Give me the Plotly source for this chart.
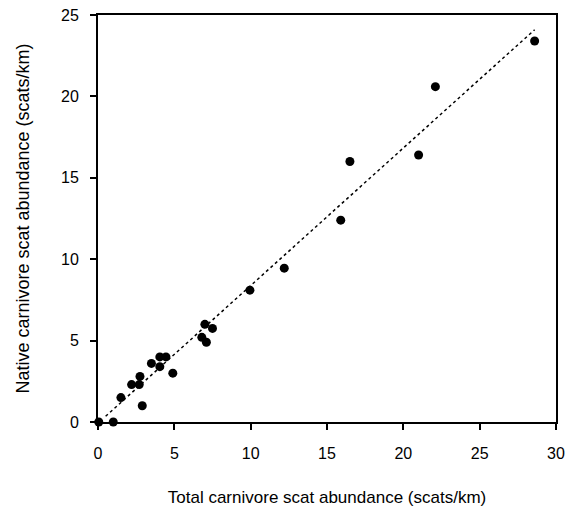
import plotly.graph_objects as go

total_abundance = [0.05, 1.0, 1.5, 2.2, 2.7, 2.75, 2.9, 3.5, 4.05, 4.45, 4.05, 4.9, 6.8, 7.0, 7.1, 7.5,
                   9.95, 12.2, 15.9, 16.5, 21.0, 22.1, 28.6]
native_abundance = [0.0, 0.0, 1.5, 2.3, 2.3, 2.8, 1.0, 3.6, 4.0, 4.0, 3.4, 3.0, 5.2, 6.0, 4.9, 5.75,
                    8.1, 9.45, 12.4, 16.0, 16.4, 20.6, 23.4]
fit_x = [0.5, 28.6]
fit_slope = 0.845
fit_intercept = -0.07
fit_y = [fit_slope * v + fit_intercept for v in fit_x]

x_ticks = [0, 5, 10, 15, 20, 25, 30]
y_ticks = [0, 5, 10, 15, 20, 25]

font_family = "Liberation Sans, Arial, sans-serif"

fig = go.Figure()
fig.add_trace(go.Scatter(x=fit_x, y=fit_y, mode="lines",
                         line=dict(color="black", width=1.5, dash="dot"),
                         showlegend=False, hoverinfo="skip"))
fig.add_trace(go.Scatter(x=total_abundance, y=native_abundance, mode="markers",
                         marker=dict(color="black", size=9), cliponaxis=False,
                         showlegend=False))

axis_common = dict(showline=True, linecolor="black", linewidth=2, mirror=True,
                   ticks="outside", ticklen=6, tickwidth=1.5, tickcolor="black",
                   showgrid=False, zeroline=False, automargin=False,
                   tickfont=dict(family=font_family, size=16, color="black"))

fig.update_layout(
    width=570, height=509,
    margin=dict(l=98, r=14, t=15, b=87),
    plot_bgcolor="white", paper_bgcolor="white",
    xaxis=dict(range=[0, 30], tickvals=x_ticks, ticklabelstandoff=10,
               title=dict(text="Total carnivore scat abundance (scats/km)", standoff=30,
                          font=dict(family=font_family, size=17, color="black")),
               **axis_common),
    yaxis=dict(range=[0, 25], tickvals=y_ticks, ticklabelstandoff=8,
               title=dict(text="Native carnivore scat abundance (scats/km)", standoff=27,
                          font=dict(family=font_family, size=18, color="black")),
               **axis_common),
)

fig.write_html("out.html", config={"displayModeBar": False},
               post_script="document.body.style.margin='0';")
